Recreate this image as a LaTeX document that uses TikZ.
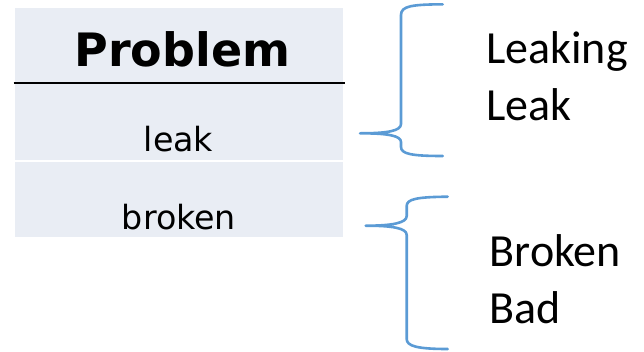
\documentclass[tikz,border=0pt]{standalone}
\usepackage{fontspec}
\setmainfont{Carlito}
\newfontfamily\tabfont{DejaVu Sans}
\definecolor{rowbg}{RGB}{233,237,244}
\definecolor{bracecol}{RGB}{91,155,213}
\begin{document}
\begin{tikzpicture}[x=1pt,y=-1pt,
  cellbg/.style={fill=rowbg,draw=none},
  headtext/.style={inner sep=0pt,anchor=base,font=\tabfont\bfseries\fontsize{46}{50}\selectfont},
  celltext/.style={inner sep=0pt,anchor=base,font=\tabfont\fontsize{33.3}{36}\selectfont},
  sidetext/.style={inner sep=0pt,anchor=base west,font=\fontsize{46}{57}\selectfont},
  bracestyle/.style={draw=bracecol,line width=2.6pt,line cap=round,line join=round}]
\useasboundingbox (0,0) rectangle (644,351);
% table cells
\fill[cellbg] (15,8.3) rectangle (343,83.5);
\fill[cellbg] (15,83.5) rectangle (343,160);
\fill[cellbg] (15,161.8) rectangle (343,237.3);
\draw[line width=1.8pt,black] (13.5,83.3) -- (344.5,83.3);
% texts
\node[headtext] (hdr) at (182.5,66.7) {Problem};
\node[celltext] (leak) at (178.5,151.7) {leak};
\node[celltext] (broken) at (179,229.3) {broken};
\node[sidetext] (leaking) at (486,63) {Leaking};
\node[sidetext] (leak2) at (486,120) {Leak};
\node[sidetext] (broken2) at (489.5,266) {Broken};
\node[sidetext] (bad) at (489.5,323) {Bad};
% brace points
\coordinate (ua) at (442.7,4.3);
\coordinate (ut) at (360,133.3);
\coordinate (ub) at (442.7,156);
\coordinate (la) at (447.7,196.7);
\coordinate (lt) at (365.7,225.7);
\coordinate (lb) at (447.7,349);
% upper brace
\draw[bracestyle] (ua) .. controls (412,4.5) and (401,6) .. (401,15)
  -- (401,124) .. controls (401,131) and (387,133.3) .. (ut)
  .. controls (387,133.3) and (401,135.5) .. (401,142)
  -- (401,147) .. controls (401,154) and (412,156) .. (ub);
% lower brace
\draw[bracestyle] (la) .. controls (417,197) and (406.7,199) .. (406.7,206)
  -- (406.7,216) .. controls (406.7,223) and (392,225.7) .. (lt)
  .. controls (392,225.7) and (406.7,228) .. (406.7,235)
  -- (406.7,339) .. controls (406.7,346) and (417,349) .. (lb);
\end{tikzpicture}
\end{document}
